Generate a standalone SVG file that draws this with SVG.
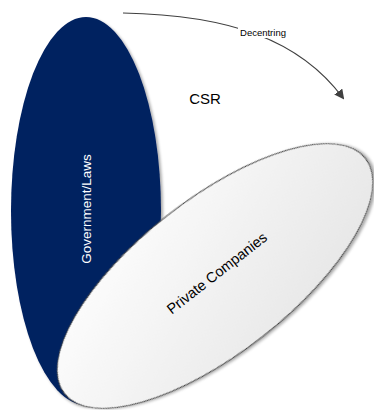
<svg xmlns="http://www.w3.org/2000/svg" width="374" height="410" viewBox="0 0 374 410">
  <style>
    .lbl { font-family: "Liberation Sans", "Open Sans", sans-serif; }
  </style>
  <defs>
    <linearGradient id="lightGrad" x1="0" y1="0" x2="1" y2="1">
      <stop offset="0" stop-color="#ffffff"/>
      <stop offset="1" stop-color="#e4e4e4"/>
    </linearGradient>
    <filter id="shadow" x="-10%" y="-10%" width="120%" height="120%">
      <feGaussianBlur in="SourceAlpha" stdDeviation="1.5"/>
      <feOffset dx="2" dy="2" result="b"/>
      <feComponentTransfer><feFuncA type="linear" slope="0.35"/></feComponentTransfer>
      <feMerge><feMergeNode/><feMergeNode in="SourceGraphic"/></feMerge>
    </filter>
    <marker id="arrow" markerWidth="10" markerHeight="10" refX="8" refY="5" orient="auto" markerUnits="userSpaceOnUse">
      <path d="M0,0 L10,5 L0,10 Z" fill="#404040"/>
    </marker>
  </defs>
  <rect width="374" height="410" fill="#ffffff"/>

  <g id="government">
    <ellipse cx="86" cy="211" rx="75" ry="194" fill="#002060" filter="url(#shadow)"/>
    <text class="lbl" x="0" y="0" transform="translate(91,209) rotate(-90)" text-anchor="middle" font-size="13.5" fill="#ffffff">Government/Laws</text>
  </g>

  <g id="private">
    <ellipse cx="215" cy="276" rx="191" ry="77" transform="rotate(-38 215 276)" fill="url(#lightGrad)" stroke="#404040" stroke-width="1" filter="url(#shadow)"/>
    <text class="lbl" x="0" y="0" transform="translate(220,277) rotate(-38)" text-anchor="middle" font-size="14.5" fill="#000000">Private Companies</text>
  </g>

  <g id="csr">
    <text class="lbl" x="205" y="104" text-anchor="middle" font-size="15" fill="#000000">CSR</text>
  </g>

  <g id="connectors">
    <path d="M123,13 C230,15 300,40 343,98" fill="none" stroke="#404040" stroke-width="1.2" marker-end="url(#arrow)"/>
    <rect x="238" y="26" width="50" height="12" fill="#ffffff"/>
    <text class="lbl" x="263" y="36" text-anchor="middle" font-size="9.5" fill="#000000">Decentring</text>
  </g>
</svg>
